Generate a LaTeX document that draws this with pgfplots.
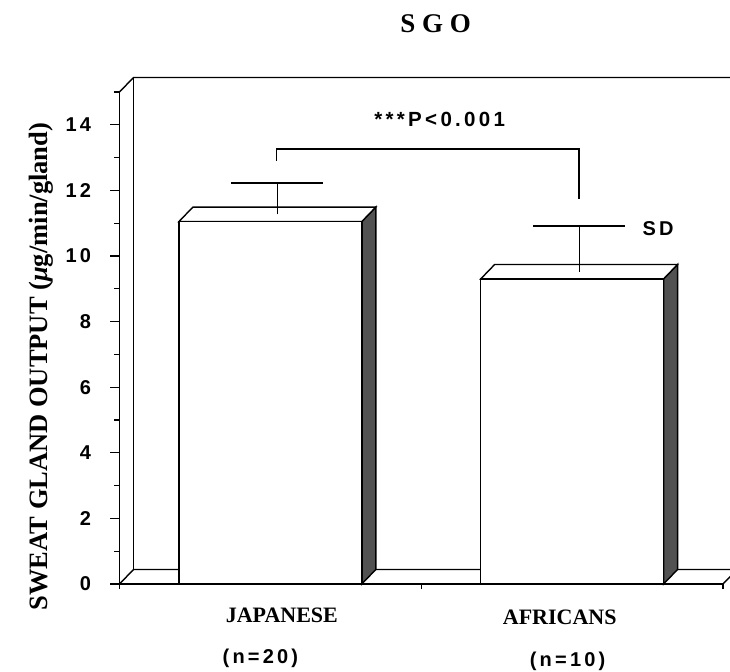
\documentclass[border=0pt]{standalone}
\usepackage{fontspec}
\setmainfont{Liberation Serif}
\newfontfamily\labsans[LetterSpace=16]{Liberation Sans}
\usepackage{pgfplots}
\pgfplotsset{compat=1.18}
\usepackage{pgfplotstable}

\newcommand\ticfont{\labsans\bfseries\fontsize{20bp}{23bp}\selectfont}
\newcommand\catfont{\bfseries\fontsize{22bp}{26bp}\selectfont}

% group means and standard deviations (x = category centre)
\pgfplotstableread{
x    mean   sd
0.5  11.05  0.95
1.5  9.30   1.40
}\sgo

\begin{document}
\begin{tikzpicture}
\useasboundingbox (0,0) rectangle (730bp,672bp);
\begin{axis}[
  at={(119.5bp,88bp)}, anchor=south west,
  scale only axis, width=603.5bp, height=492bp,
  xmin=0, xmax=2, ymin=0, ymax=15,
  axis x line*=bottom, axis y line*=left,
  axis line style={line width=1.4bp},
  clip=false,
  xtick={0,1,2}, xticklabels={},
  ytick={0,2,...,14}, minor ytick={1,3,...,15},
  tick align=outside, major tick length=9bp, minor tick length=5bp,
  tick style={black, line width=1.2bp},
  xtick style={/pgfplots/major tick length=5bp},
  yticklabel style={font=\ticfont, xshift=-16bp},
  /pgf/number format/assume math mode=true,
]
% back wall and floor (depth offset: 0.0464 x-units, 0.442 y-units)
\addplot[black, line width=1.4bp] coordinates {(0,15) (0.0464,15.442) (2.06,15.442)};
\addplot[black, line width=1.4bp] coordinates {(0.0464,15.442) (0.0464,0.442)};
\addplot[black, line width=1.4bp] coordinates {(0,0) (0.0464,0.442) (2.0464,0.442)};
\addplot[black, line width=1.4bp] coordinates {(2,0) (2.0464,0.442)};

% right-hand side faces of the boxes
\addplot[draw=black, fill=black!68, line width=1.4bp] coordinates
  {(0.803,0) (0.8494,0.442) (0.8494,11.492) (0.803,11.05)} -- cycle;
\addplot[draw=black, fill=black!68, line width=1.4bp] coordinates
  {(1.803,0) (1.8494,0.442) (1.8494,9.742) (1.803,9.30)} -- cycle;
% top faces
\addplot[draw=black, fill=white, line width=1.4bp] coordinates
  {(0.197,11.05) (0.803,11.05) (0.8494,11.492) (0.2434,11.492)} -- cycle;
\addplot[draw=black, fill=white, line width=1.4bp] coordinates
  {(1.197,9.30) (1.803,9.30) (1.8494,9.742) (1.2434,9.742)} -- cycle;
% front faces
\addplot[ybar, bar width=0.606, bar shift=0pt, draw=black, fill=white, line width=1.4bp]
  table[x=x, y=mean] {\sgo};

% SD bars, drawn at mid-depth of the boxes
\addplot[draw=none, mark=none, xshift=7bp, yshift=7.25bp,
  error bars/.cd, y dir=plus, y explicit,
  error mark=|,
  error bar style={draw=black, line width=1bp},
  error mark options={draw=black, mark size=46bp, line width=1.8bp}]
  table[x=x, y=mean, y error=sd] {\sgo};

% significance bracket
\addplot[black, line width=1.2bp] coordinates {(0.521,12.90) (0.521,13.26) (1.523,13.26) (1.523,11.73)};

% annotations
\node[font=\labsans\bfseries\fontsize{20.5bp}{23bp}\selectfont] at (axis cs:1.061,14.15) {***P\,<\,0.001};
\node[font=\ticfont] at (axis cs:1.785,10.85) {SD};
\node[font=\bfseries\fontsize{27bp}{30bp}\selectfont] at (axis cs:1.048,17.07) {S G O};

\node[font=\catfont] at (axis cs:0.538,-0.95) {JAPANESE};
\node[font=\catfont] at (axis cs:1.459,-1.03) {AFRICANS};
\node[font=\ticfont] at (axis cs:0.467,-2.26) {(n=20)};
\node[font=\ticfont] at (axis cs:1.485,-2.35) {(n=10)};

\node[rotate=90, font=\bfseries\fontsize{26.5bp}{30bp}\selectfont]
  at (axis description cs:-0.130,0.442) {SWEAT GLAND OUTPUT (\textit{μ}g/min/gland)};
\end{axis}
\end{tikzpicture}
\end{document}
